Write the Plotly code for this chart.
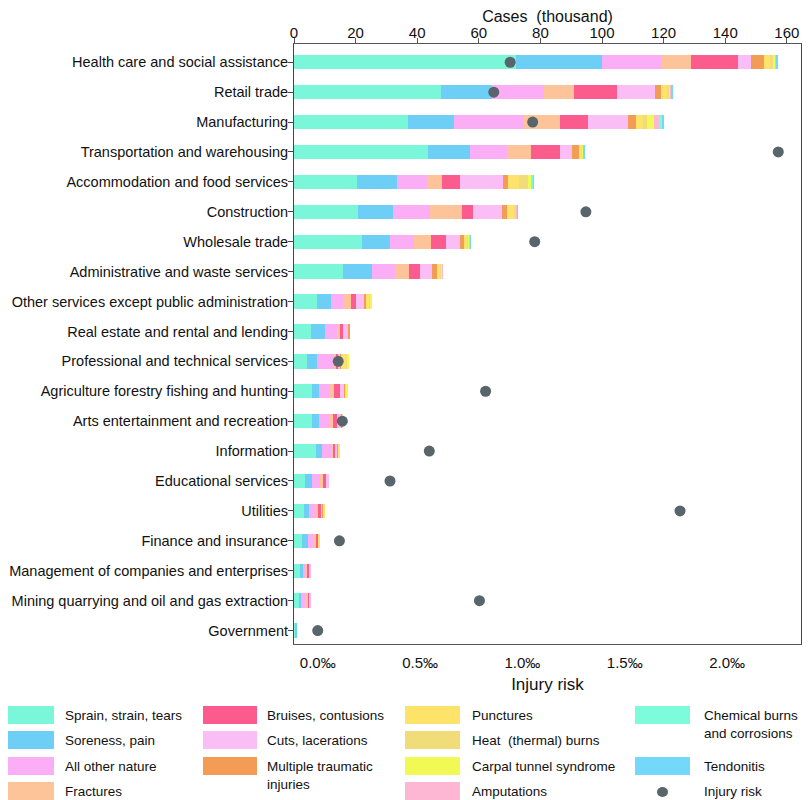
import plotly.graph_objects as go

industries = [
    "Health care and social assistance", "Retail trade", "Manufacturing",
    "Transportation and warehousing", "Accommodation and food services",
    "Construction", "Wholesale trade", "Administrative and waste services",
    "Other services except public administration", "Real estate and rental and lending",
    "Professional and technical services", "Agriculture forestry fishing and hunting",
    "Arts entertainment and recreation", "Information", "Educational services",
    "Utilities", "Finance and insurance", "Management of companies and enterprises",
    "Mining quarrying and oil and gas extraction", "Government",
]

# cases, thousand
sprain = [72, 47.7, 37, 43.5, 20.4, 20.7, 22, 16, 7.4, 5.6, 4.1, 5.7, 5.7, 7.2, 3.6, 3.4, 2.5, 1.9, 1.8, 0.4]
soreness = [28, 16.6, 15.1, 13.5, 13.1, 11.6, 9.2, 9.2, 4.5, 4.5, 3.3, 2.5, 2.5, 1.8, 2.4, 1.4, 2, 1.1, 0.5, 0.3]
other = [19, 16.8, 22.2, 12.2, 9.6, 11.9, 7.9, 7.6, 3.9, 4, 5.7, 3.2, 3.2, 3.2, 2.6, 2.6, 2, 0.9, 1.2, 0]
fractures = [9.8, 9.7, 12.2, 7.8, 4.9, 10.3, 5.4, 4.5, 2.7, 0.9, 0.8, 1.6, 1.1, 0.4, 0.8, 0.5, 0.6, 0.3, 1.1, 0]
bruises = [15.4, 13.9, 8.9, 9.3, 6, 3.5, 4.9, 3.6, 1.6, 0.9, 0.5, 1.9, 1.4, 0.8, 0.9, 0.8, 0.7, 0.8, 0.3, 0]
cuts = [4.1, 12.5, 13.1, 3.8, 14, 9.4, 4.5, 3.8, 2.6, 1.9, 0.8, 1.4, 1.6, 0.8, 1.1, 0.7, 0.3, 0.4, 0.7, 0]
multiple = [4.3, 2.1, 2.6, 2.4, 1.6, 1.7, 1.4, 1.6, 0.7, 0.2, 0.2, 0.4, 0.2, 0.2, 0, 0.1, 0, 0, 0, 0]
punctures = [2, 1.8, 2.2, 0.8, 3.5, 2.4, 1, 1.3, 1.1, 0, 1.5, 0.4, 0.2, 0.4, 0, 0.5, 0.5, 0, 0, 0]
heat = [1.1, 0.8, 1.4, 0.2, 3, 0.6, 0.2, 0.2, 0.2, 0, 0.5, 0.1, 0, 0, 0, 0, 0, 0, 0, 0]
carpal = [0.6, 0.4, 2.1, 0.4, 1, 0.2, 0.5, 0.3, 0.6, 0, 0.5, 0.2, 0, 0, 0, 0, 0, 0, 0, 0]
amputations = [0.2, 0.1, 1.8, 0.1, 0.3, 0.1, 0.1, 0.1, 0, 0, 0, 0, 0, 0, 0, 0, 0, 0, 0, 0]
chemical = [0.1, 0.1, 1.1, 0.1, 0.2, 0, 0.1, 0, 0, 0, 0, 0, 0, 0, 0, 0, 0, 0, 0, 0]
tendonitis = [0.5, 0.4, 0.2, 0.1, 0.3, 0.1, 0.1, 0, 0, 0, 0, 0, 0, 0, 0, 0, 0, 0, 0, 0]

# injury risk, per mille (None = not shown)
risk = [0.94, 0.86, 1.05, 2.25, None, 1.31, 1.06, None, None, None,
        0.10, 0.82, 0.12, 0.545, 0.353, 1.77, 0.106, None, 0.79, 0.0]

nature = ["Sprain, strain, tears", "Soreness, pain", "All other nature", "Fractures",
          "Bruises, contusions", "Cuts, lacerations", "Multiple traumatic<br>injuries",
          "Punctures", "Heat\u00a0\u00a0(thermal) burns", "Carpal tunnel syndrome", "Amputations",
          "Chemical burns<br>and corrosions", "Tendonitis"]
values = [sprain, soreness, other, fractures, bruises, cuts, multiple, punctures,
          heat, carpal, amputations, chemical, tendonitis]
colors = ["#7af7d8", "#6dcff6", "#fbadf5", "#fdc49a", "#fb5b8d", "#fbbdf6", "#f39c55",
          "#fde36a", "#f0dc78", "#f1fa55", "#fdb7d3", "#7cfcda", "#74d8fb"]
dot_color = "#58656a"

FONT = "Arial, Liberation Sans, sans-serif"

fig = go.Figure()
for name, vals, col in zip(nature, values, colors):
    fig.add_trace(go.Bar(y=industries, x=vals, orientation="h", name=name,
                         marker=dict(color=col, line_width=0), width=0.48,
                         xaxis="x", yaxis="y", showlegend=False))
fig.add_trace(go.Scatter(x=risk, y=industries, mode="markers", name="Injury risk",
                         marker=dict(color=dot_color, size=11), xaxis="x2", yaxis="y",
                         showlegend=False))

# the page has an 8px body margin, so the figure is 802x792 and page px are shifted by 8
OFF = 8
W, H = 802, 792
L, R, T, B = 294 - OFF, 801 - OFF, 44 - OFF, 644 - OFF
def px(x):
    return (x - OFF - L) / (R - L)
def py(y):
    return (B - (y - OFF)) / (B - T)

shapes = []
annotations = []
# legend (page px): columns (swatch left, swatch right), text x, rows y
cols = [(OFF, 54), (203, 257), (405, 460), (635, 690)]
text_x = [63, 265, 470, 702]
rows = [715, 740, 766, 791]
slots = [(0, 0), (0, 1), (0, 2), (0, 3), (1, 0), (1, 1), (1, 2),
         (2, 0), (2, 1), (2, 2), (2, 3), (3, 0), (3, 2)]
sh = 18
for name, col, (c, r) in zip(nature, colors, slots):
    x0, x1 = cols[c]
    yc = rows[r]
    shapes.append(dict(type="rect", xref="paper", yref="paper", x0=px(x0), x1=px(x1),
                       y0=py(yc - sh / 2), y1=py(yc + sh / 2), fillcolor=col, line_width=0))
    annotations.append(dict(xref="paper", yref="paper", x=px(text_x[c]), y=py(yc - 9), text=name,
                            showarrow=False, xanchor="left", yanchor="top", align="left",
                            font=dict(size=13.5, color="#111", family=FONT)))
# injury risk legend entry
shapes.append(dict(type="circle", xref="paper", yref="paper", x0=px(657), x1=px(668),
                   y0=py(797), y1=py(787), fillcolor=dot_color, line_width=0))
annotations.append(dict(xref="paper", yref="paper", x=px(text_x[3]), y=py(rows[3] - 9),
                        text="Injury risk", showarrow=False, xanchor="left", yanchor="top",
                        font=dict(size=13.5, color="#111", family=FONT)))

fig.update_layout(
    width=W, height=H,
    margin=dict(l=L, r=W - R, t=T, b=H - B, autoexpand=False),
    barmode="stack",
    plot_bgcolor="white", paper_bgcolor="white",
    font=dict(family=FONT, size=15, color="#111"),
    shapes=shapes, annotations=annotations,
    showlegend=False,
    xaxis=dict(side="top", range=[0, 164.6], tickvals=list(range(0, 161, 20)),
               ticks="outside", ticklen=5, tickcolor="#555", showline=True, linecolor="#555",
               mirror=True, showgrid=False, zeroline=False, automargin=False,
               ticklabelstandoff=-6,
               title=dict(text="Cases\u00a0\u00a0(thousand)", font=dict(size=16), standoff=0)),
    xaxis2=dict(overlaying="x", side="bottom", range=[-0.116, 2.361],
                tickvals=[0, 0.5, 1, 1.5, 2],
                ticktext=["0.0\u2030", "0.5\u2030", "1.0\u2030", "1.5\u2030", "2.0\u2030"],
                ticks="outside", ticklen=5, tickcolor="rgba(0,0,0,0)",
                showline=True, linecolor="#555", showgrid=False, zeroline=False,
                automargin=False,
                title=dict(text="Injury risk", font=dict(size=17), standoff=8)),
    yaxis=dict(type="category", categoryarray=industries, range=[19.45, -0.61],
               ticks="outside", ticklen=5, tickcolor="#444", showline=True, linecolor="#444",
               mirror=True, showgrid=False, zeroline=False, automargin=False,
               ticklabelstandoff=-3, tickfont=dict(size=14.5)),
)

fig.write_html("out.html")
